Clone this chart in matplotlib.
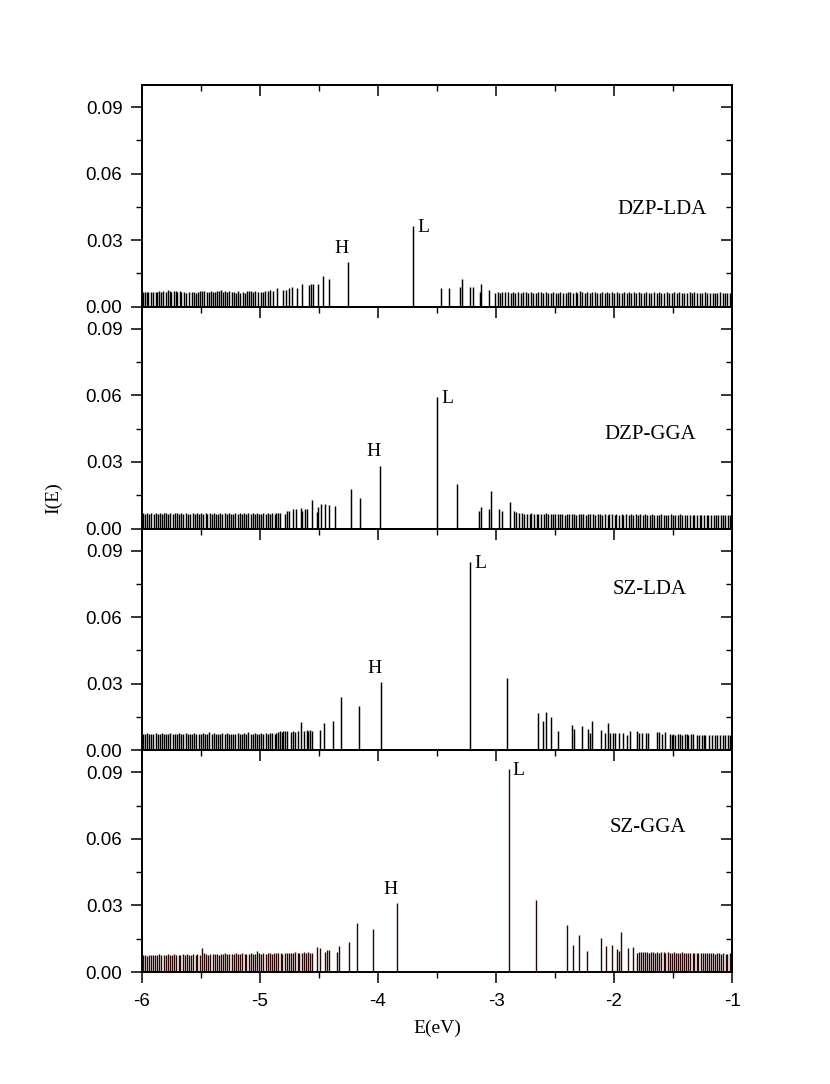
import matplotlib
matplotlib.use("Agg")
import matplotlib.pyplot as plt
from matplotlib.ticker import MultipleLocator, FormatStrFormatter

# ---------------- data ----------------
panel_names = ["DZP-LDA", "DZP-GGA", "SZ-LDA", "SZ-GGA"]

# DZP-LDA
e_dzp_lda = [-5.99, -5.975, -5.96, -5.945, -5.92, -5.905, -5.885, -5.87, -5.855, -5.835, -5.82, -5.80,
             -5.78, -5.765, -5.75, -5.73, -5.715, -5.70, -5.68, -5.665, -5.645, -5.625, -5.605, -5.575,
             -5.555, -5.54, -5.525, -5.505, -5.49, -5.47, -5.45, -5.435, -5.415, -5.40, -5.38, -5.365,
             -5.345, -5.33, -5.31, -5.295, -5.275, -5.26, -5.24, -5.22, -5.205, -5.19, -5.165, -5.145,
             -5.13, -5.11, -5.095, -5.08, -5.06, -5.045, -5.02, -4.995, -4.975, -4.955, -4.935, -4.915,
             -4.893, -4.859, -4.802, -4.782, -4.754, -4.732, -4.684, -4.647, -4.585, -4.568, -4.548,
             -4.511, -4.469, -4.413, -4.252, -3.700, -3.466, -3.396, -3.305, -3.290, -3.220, -3.198,
             -3.136, -3.125, -3.063, -3.008,
             -2.985, -2.965, -2.945, -2.92, -2.90, -2.875, -2.86, -2.835, -2.815, -2.79, -2.77, -2.75,
             -2.73, -2.70, -2.685, -2.665, -2.645, -2.62, -2.60, -2.575, -2.56, -2.535, -2.515, -2.49,
             -2.475, -2.455, -2.43, -2.41, -2.39, -2.37, -2.345, -2.325, -2.31, -2.285, -2.27, -2.25,
             -2.225, -2.205, -2.185, -2.16, -2.145, -2.12, -2.10, -2.08, -2.06, -2.04, -2.015, -2.0,
             -1.975, -1.955, -1.935, -1.915, -1.89, -1.875, -1.855, -1.83, -1.81, -1.79, -1.77, -1.745,
             -1.725, -1.705, -1.685, -1.66, -1.64, -1.62, -1.60, -1.575, -1.555, -1.535, -1.51, -1.49,
             -1.47, -1.45, -1.425, -1.405, -1.385, -1.36, -1.34, -1.32, -1.295, -1.275, -1.255, -1.23,
             -1.21, -1.19, -1.165, -1.145, -1.125, -1.10, -1.08, -1.06, -1.04, -1.02, -1.005]
i_dzp_lda = [.0068, .0068, .0066, .0067, .0066, .0065, .0068, .0067, .0070, .0068, .0069, .0067,
             .0074, .0070, .0068, .0071, .0069, .0068, .0070, .0066, .0067, .0064, .0066, .0065,
             .0066, .0064, .0067, .0069, .0070, .0070, .0068, .0066, .0072, .0068, .0066, .0069,
             .0071, .0074, .0068, .0070, .0067, .0069, .0066, .0065, .0063, .0070, .0064, .0065,
             .0063, .0073, .0070, .0069, .0065, .0073, .0068, .0066, .0065, .0072, .0070, .0074,
             .0072, .0083, .0075, .0077, .0083, .0090, .0083, .0103, .0098, .0101, .0101,
             .0103, .0139, .0127, .0200, .0362, .0083, .0083, .0090, .0125, .0087, .0087,
             .0068, .0102, .0075, .0063,
             .0066, .0064, .0067, .0065, .0066, .0064, .0066, .0063, .0066, .0064, .0067, .0065,
             .0064, .0066, .0064, .0063, .0066, .0065, .0063, .0066, .0064, .0063, .0066, .0064,
             .0063, .0065, .0064, .0063, .0067, .0065, .0064, .0066, .0064, .0072, .0065, .0064,
             .0066, .0063, .0065, .0066, .0064, .0063, .0065, .0064, .0066, .0063, .0065, .0064,
             .0066, .0064, .0063, .0065, .0064, .0066, .0063, .0065, .0064, .0066, .0064, .0063,
             .0065, .0064, .0062, .0065, .0064, .0066, .0063, .0064, .0065, .0063, .0064, .0066,
             .0063, .0065, .0064, .0062, .0064, .0066, .0063, .0065, .0063, .0064, .0062, .0065,
             .0063, .0064, .0062, .0064, .0063, .0065, .0062, .0064, .0063, .0062, .0064]

# DZP-GGA
e_dzp_gga = [-5.99, -5.975, -5.955, -5.94, -5.92, -5.90, -5.885, -5.865, -5.85, -5.83, -5.81, -5.795,
             -5.775, -5.76, -5.74, -5.72, -5.705, -5.685, -5.67, -5.65, -5.63, -5.61, -5.595, -5.57,
             -5.55, -5.535, -5.515, -5.50, -5.48, -5.46, -5.445, -5.425, -5.41, -5.39, -5.37, -5.355,
             -5.335, -5.32, -5.30, -5.28, -5.265, -5.245, -5.225, -5.21, -5.19, -5.17, -5.155, -5.135,
             -5.115, -5.10, -5.08, -5.06, -5.045, -5.025, -5.005, -4.99, -4.97, -4.95, -4.935, -4.915,
             -4.895, -4.875, -4.86, -4.845,
             -4.830, -4.788, -4.774, -4.754, -4.723, -4.697, -4.653, -4.642, -4.619, -4.604, -4.563,
             -4.515, -4.506, -4.486, -4.449, -4.415, -4.364, -4.229, -4.153, -3.983, -3.500, -3.328,
             -3.147, -3.123, -3.063, -3.040, -2.972, -2.952, -2.881, -2.847, -2.833, -2.805,
             -2.78, -2.76, -2.74, -2.715, -2.70, -2.68, -2.655, -2.64, -2.62, -2.595, -2.58, -2.56,
             -2.535, -2.52, -2.50, -2.475, -2.46, -2.44, -2.415, -2.40, -2.38, -2.355, -2.34, -2.32,
             -2.295, -2.28, -2.26, -2.235, -2.22, -2.20, -2.175, -2.16, -2.14, -2.115, -2.10, -2.08,
             -2.055, -2.04, -2.02, -1.995, -1.98, -1.96, -1.935, -1.92, -1.90, -1.875, -1.86, -1.84,
             -1.815, -1.80, -1.78, -1.755, -1.74, -1.72, -1.695, -1.68, -1.66, -1.635, -1.62, -1.60,
             -1.575, -1.56, -1.54, -1.515, -1.50, -1.48, -1.455, -1.44, -1.42, -1.395, -1.38, -1.36,
             -1.335, -1.32, -1.30, -1.275, -1.26, -1.24, -1.215, -1.20, -1.18, -1.155, -1.14, -1.12,
             -1.095, -1.08, -1.06, -1.035, -1.02, -1.005]
i_dzp_gga = [.0068, .0066, .0069, .0067, .0070, .0066, .0068, .0067, .0069, .0066, .0068, .0070,
             .0067, .0068, .0066, .0069, .0071, .0067, .0068, .0066, .0069, .0067, .0065, .0068,
             .0066, .0069, .0067, .0068, .0066, .0070, .0067, .0068, .0066, .0069, .0067, .0065,
             .0068, .0067, .0069, .0066, .0068, .0067, .0065, .0069, .0066, .0068, .0067, .0070,
             .0066, .0068, .0067, .0069, .0066, .0068, .0065, .0067, .0069, .0066, .0068, .0067,
             .0069, .0066, .0070, .0068,
             .0071, .0066, .0078, .0078, .0089, .0086, .0093, .0078, .0086, .0086, .0127,
             .0074, .0097, .0112, .0112, .0106, .0103, .0180, .0137, .0282, .0594, .0202,
             .0078, .0097, .0086, .0170, .0087, .0081, .0121, .0078, .0074, .0071,
             .0068, .0066, .0067, .0065, .0068, .0066, .0064, .0067, .0065, .0066, .0068, .0064,
             .0066, .0065, .0067, .0064, .0066, .0065, .0063, .0066, .0064, .0067, .0065, .0063,
             .0066, .0064, .0065, .0063, .0066, .0064, .0065, .0063, .0066, .0064, .0062, .0065,
             .0063, .0066, .0064, .0062, .0065, .0063, .0064, .0062, .0065, .0063, .0064, .0062,
             .0065, .0063, .0064, .0062, .0065, .0063, .0061, .0064, .0062, .0063, .0061, .0064,
             .0062, .0063, .0061, .0064, .0062, .0063, .0061, .0064, .0062, .0060, .0063, .0061,
             .0062, .0060, .0063, .0061, .0062, .0060, .0063, .0061, .0062, .0060, .0061, .0060,
             .0062, .0060, .0061, .0059, .0061, .0060]

# SZ-LDA
e_sz_lda = [-5.99, -5.975, -5.955, -5.94, -5.92, -5.905, -5.885, -5.865, -5.85, -5.83, -5.815, -5.795,
            -5.775, -5.76, -5.74, -5.72, -5.705, -5.685, -5.665, -5.65, -5.63, -5.61, -5.595, -5.575,
            -5.555, -5.54, -5.52, -5.50, -5.485, -5.465, -5.445, -5.43, -5.41, -5.39, -5.375, -5.355,
            -5.335, -5.32, -5.30, -5.28, -5.265, -5.245, -5.225, -5.21, -5.19, -5.17, -5.155, -5.135,
            -5.115, -5.10, -5.08, -5.06, -5.045, -5.025, -5.005, -4.99, -4.97, -4.95, -4.935, -4.915,
            -4.895, -4.875, -4.86, -4.845,
            -4.830, -4.815, -4.805, -4.790, -4.770, -4.740, -4.720, -4.705, -4.680, -4.653, -4.630,
            -4.605, -4.590, -4.575, -4.562, -4.492, -4.460, -4.384, -4.316, -4.164, -3.972, -3.220,
            -2.907, -2.647, -2.604, -2.579, -2.537, -2.472, -2.359, -2.339, -2.274, -2.223, -2.203,
            -2.186, -2.113, -2.076, -2.051, -2.034, -2.011, -1.992, -1.955, -1.927, -1.893, -1.864,
            -1.808, -1.786, -1.765, -1.729, -1.709, -1.638, -1.619, -1.596, -1.568, -1.525, -1.510,
            -1.497, -1.480, -1.460, -1.440, -1.420, -1.398, -1.384, -1.370, -1.350, -1.327, -1.300,
            -1.277, -1.257, -1.240, -1.227, -1.195, -1.170, -1.144, -1.125, -1.102, -1.080, -1.059,
            -1.037, -1.015]
i_sz_lda = [.0075, .0074, .0076, .0073, .0075, .0074, .0076, .0073, .0075, .0077, .0074, .0075,
            .0073, .0076, .0074, .0075, .0073, .0076, .0074, .0075, .0077, .0073, .0075, .0074,
            .0076, .0073, .0075, .0074, .0076, .0075, .0073, .0083, .0074, .0076, .0075, .0073,
            .0075, .0077, .0074, .0076, .0075, .0073, .0075, .0074, .0076, .0075, .0073, .0076,
            .0074, .0082, .0075, .0073, .0076, .0074, .0075, .0077, .0074, .0076, .0075, .0078,
            .0076, .0074, .0080, .0082,
            .0088, .0083, .0085, .0088, .0085, .0083, .0088, .0083, .0089, .0128, .0085,
            .0090, .0088, .0090, .0089, .0090, .0121, .0131, .0241, .0200, .0306, .0849,
            .0327, .0170, .0131, .0173, .0148, .0086, .0115, .0095, .0110, .0095, .0080,
            .0130, .0090, .0077, .0124, .0080, .0080, .0080, .0080, .0077, .0070, .0087,
            .0088, .0078, .0078, .0078, .0077, .0082, .0082, .0073, .0083, .0072, .0070,
            .0072, .0071, .0072, .0072, .0070, .0072, .0072, .0071, .0072, .0072, .0070,
            .0070, .0070, .0071, .0070, .0070, .0069, .0068, .0068, .0068, .0069, .0068,
            .0068, .0069]

# SZ-GGA
e_sz_gga = [-5.99, -5.975, -5.96, -5.94, -5.925, -5.905, -5.89, -5.87, -5.855, -5.835, -5.815, -5.80,
            -5.78, -5.765, -5.745, -5.725, -5.71, -5.69, -5.675, -5.655, -5.635, -5.62, -5.60, -5.585,
            -5.565, -5.545, -5.53, -5.51, -5.494, -5.475, -5.455, -5.44, -5.42, -5.40, -5.385, -5.365,
            -5.35, -5.33, -5.31, -5.295, -5.275, -5.26, -5.24, -5.22, -5.205, -5.185, -5.17, -5.15,
            -5.13, -5.115, -5.095, -5.08, -5.06, -5.04, -5.025, -5.005, -4.99, -4.97, -4.95, -4.935,
            -4.915, -4.90, -4.88, -4.86, -4.845, -4.825, -4.81, -4.79, -4.77, -4.755, -4.735, -4.72,
            -4.70, -4.68, -4.665, -4.645, -4.63, -4.61, -4.59, -4.575, -4.555,
            -4.520, -4.490, -4.450, -4.430, -4.415, -4.350, -4.328, -4.243, -4.175, -4.045, -3.836,
            -2.893, -2.664, -2.398, -2.344, -2.297, -2.232, -2.110, -2.068, -2.017, -1.977, -1.958,
            -1.941, -1.879, -1.836,
            -1.805, -1.79, -1.775, -1.755, -1.74, -1.72, -1.705, -1.685, -1.67, -1.65, -1.635, -1.615,
            -1.60, -1.58, -1.565, -1.545, -1.53, -1.51, -1.495, -1.475, -1.46, -1.44, -1.425, -1.405,
            -1.39, -1.37, -1.355, -1.335, -1.32, -1.30, -1.285, -1.265, -1.25, -1.23, -1.215, -1.195,
            -1.18, -1.16, -1.145, -1.125, -1.11, -1.09, -1.075, -1.055, -1.04, -1.02, -1.005]
i_sz_gga = [.0075, .0076, .0074, .0077, .0078, .0076, .0079, .0077, .0080, .0078, .0076, .0079,
            .0081, .0078, .0077, .0080, .0078, .0076, .0079, .0081, .0078, .0080, .0077, .0079,
            .0081, .0078, .0080, .0077, .0109, .0085, .0081, .0079, .0082, .0080, .0083, .0081,
            .0079, .0082, .0080, .0084, .0082, .0080, .0083, .0081, .0085, .0083, .0081, .0084,
            .0082, .0080, .0083, .0085, .0082, .0081, .0094, .0084, .0082, .0085, .0083, .0086,
            .0084, .0082, .0085, .0087, .0084, .0086, .0083, .0085, .0088, .0086, .0084, .0087,
            .0089, .0086, .0088, .0085, .0090, .0087, .0089, .0086, .0088,
            .0113, .0110, .0090, .0098, .0100, .0090, .0118, .0137, .0219, .0196, .0311,
            .0917, .0327, .0211, .0121, .0166, .0095, .0155, .0118, .0121, .0106, .0094,
            .0180, .0110, .0113,
            .0088, .0091, .0090, .0092, .0089, .0090, .0088, .0091, .0089, .0087, .0090, .0088,
            .0091, .0089, .0087, .0090, .0088, .0086, .0089, .0087, .0088, .0086, .0089, .0087,
            .0085, .0088, .0086, .0087, .0085, .0088, .0086, .0084, .0087, .0085, .0086, .0084,
            .0087, .0085, .0083, .0086, .0084, .0082, .0085, .0083, .0081, .0084, .0080]

energies = [e_dzp_lda, e_dzp_gga, e_sz_lda, e_sz_gga]
intensities = [i_dzp_lda, i_dzp_gga, i_sz_lda, i_sz_gga]

# HOMO / LUMO peaks (energy, intensity)
homo = [(-4.252, .0200), (-3.983, .0282), (-3.972, .0306), (-3.836, .0311)]
lumo = [(-3.700, .0362), (-3.500, .0594), (-3.220, .0849), (-2.893, .0917)]

label_pos = [(-1.593, 0.0439), (-1.695, 0.0425), (-1.695, 0.0724), (-1.716, 0.0653)]

x_ticks = [-6, -5, -4, -3, -2, -1]
y_ticks = [0.00, 0.03, 0.06, 0.09]

# ---------------- drawing ----------------
serif = "Liberation Serif"
sans = "Liberation Sans"
line_colors = ["#000000", "#000000", "#000000", "#2a0808"]
line_widths = [1.05, 1.05, 1.05, 1.0]

fig = plt.figure(figsize=(8.3, 10.84), dpi=100)
fig.patch.set_facecolor("white")
gs = fig.add_gridspec(4, 1, left=0.171, right=0.882, bottom=0.1033, top=0.9216, hspace=0)

for k in range(4):
    ax = fig.add_subplot(gs[k])
    ax.patch.set_visible(False)
    ax.vlines(energies[k], 0, intensities[k], colors=line_colors[k], linewidth=line_widths[k])
    ax.set_xlim(-6, -1)
    ax.set_ylim(0, 0.1)
    for s in ax.spines.values():
        s.set_linewidth(1.4)
    ax.set_xticks(x_ticks)
    ax.xaxis.set_minor_locator(MultipleLocator(0.5))
    ax.set_yticks(y_ticks)
    ax.yaxis.set_minor_locator(MultipleLocator(0.015))
    ax.yaxis.set_major_formatter(FormatStrFormatter("%.2f"))
    ax.tick_params(which="major", direction="out", length=8, width=1.1, labelsize=13.5, pad=6)
    ax.tick_params(which="minor", direction="out", length=4, width=1.0)
    for t in ax.get_yticklabels() + ax.get_xticklabels():
        t.set_fontfamily(sans)
    if k < 3:
        ax.tick_params(axis="x", labelbottom=False)
    else:
        ax.set_xticklabels([str(v) for v in x_ticks], fontfamily=sans)
        ax.tick_params(axis="x", pad=7)

    # right axis ticks pointing inward
    sec = ax.secondary_yaxis("right")
    sec.set_yticks(y_ticks)
    sec.yaxis.set_minor_locator(MultipleLocator(0.015))
    sec.tick_params(which="major", direction="in", length=8, width=1.1, labelright=False)
    sec.tick_params(which="minor", direction="in", length=4, width=1.0)
    sec.spines["right"].set_linewidth(1.4)
    if k == 0:
        secx = ax.secondary_xaxis("top")
        secx.set_xticks(x_ticks)
        secx.xaxis.set_minor_locator(MultipleLocator(0.5))
        secx.tick_params(which="major", direction="in", length=8, width=1.1, labeltop=False)
        secx.tick_params(which="minor", direction="in", length=4, width=1.0)
        secx.spines["top"].set_linewidth(1.4)

    ax.text(label_pos[k][0], label_pos[k][1], panel_names[k], fontfamily=serif, fontsize=15,
            ha="center", va="center")
    hx, hy = homo[k]
    ax.annotate("H", xy=(hx, hy), xytext=(-5, 4), textcoords="offset points",
                ha="center", va="bottom", fontfamily=serif, fontsize=14)
    lx, ly = lumo[k]
    ax.annotate("L", xy=(lx, ly), xytext=(3, -1), textcoords="offset points",
                ha="left", va="center", fontfamily=serif, fontsize=14)

fig.text(0.064, 0.5406, "I(E)", rotation=90, fontfamily=serif, fontsize=14, ha="center", va="center")
fig.text(0.5265, 0.0517, "E(eV)", fontfamily=serif, fontsize=14, ha="center", va="center")

fig.savefig("out.png", dpi=100, facecolor="white")
